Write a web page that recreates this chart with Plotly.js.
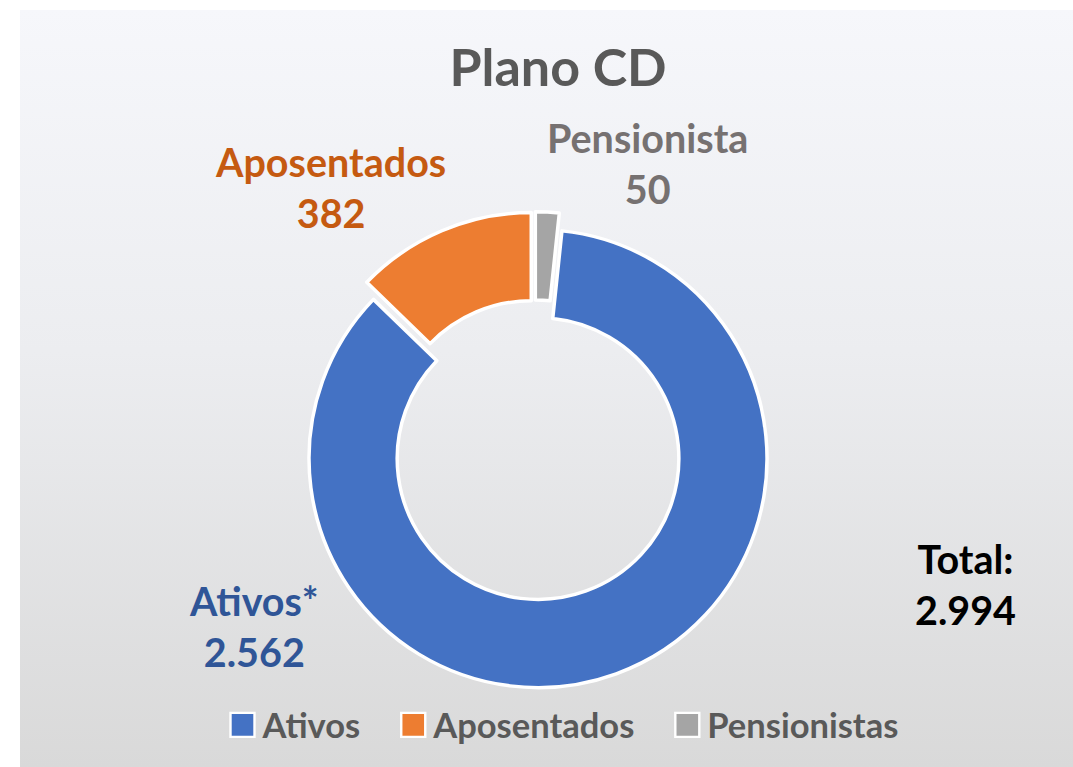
<!DOCTYPE html>
<html>
<head>
<meta charset="utf-8">
<script src="https://cdn.plot.ly/plotly-3.0.1.min.js"></script>
<style>
  html, body { margin: 0; padding: 0; background: #ffffff; }
  #wrap { position: relative; width: 1073px; height: 767px; background: #ffffff; overflow: hidden; }
  #bg { position: absolute; left: 20px; top: 10px; width: 1053px; height: 757px;
        background: linear-gradient(to bottom, #F6F7FB 0%, #ECEDF0 45%, #D9D9D9 100%); }
  #chart { position: absolute; left: 0; top: 0; width: 1073px; height: 767px; }
</style>
</head>
<body>
<div id="wrap">
  <div id="bg"></div>
  <div id="chart"></div>
</div>
<script>
// ---- data ----
const categories = ["Ativos", "Aposentados", "Pensionistas"];
const values = [2562, 382, 50];
const calloutLabels = ["Ativos*", "Aposentados", "Pensionista"];
const sliceColors = ["#4472C4", "#ED7D31", "#A5A5A5"];
const calloutColors = ["#2F5597", "#C55A11", "#767171"];
const chartTitle = "Plano CD";
const totalLabel = "Total:";

function fmtBR(n) {
  return String(n).replace(/\B(?=(\d{3})+(?!\d))/g, ".");
}
const total = values.reduce((a, b) => a + b, 0);

const W = 1073, H = 767;
const px = x => x / W;
const py = y => 1 - y / H;

// callout positions (pixels)
const calloutPos = [[254, 626], [330, 187], [647, 163]];

const annotations = categories.map((c, i) => ({
  text: calloutLabels[i] + "<br>" + fmtBR(values[i]),
  x: px(calloutPos[i][0]), y: py(calloutPos[i][1]),
  xref: "paper", yref: "paper", xanchor: "center", yanchor: "middle",
  align: "center", showarrow: false,
  font: { family: "Lato, sans-serif", size: 39.5, color: calloutColors[i], weight: 700 }
}));
annotations.push({
  text: totalLabel + "<br>" + fmtBR(total),
  x: px(965), y: py(584), xref: "paper", yref: "paper",
  xanchor: "center", yanchor: "middle", align: "center", showarrow: false,
  font: { family: "Lato, sans-serif", size: 39.5, color: "#000000", weight: 700 }
});

const trace = {
  type: "pie",
  labels: categories,
  values: values,
  sort: false,
  direction: "clockwise",
  rotation: 6,
  hole: 0.615,
  pull: [0.04, 0.04, 0.04],
  textinfo: "none",
  hoverinfo: "none",
  marker: { colors: sliceColors, line: { color: "#FFFFFF", width: 3.5 } },
  domain: { x: [0.1, 0.897], y: [0.1028, 0.7238] }
};

const layout = {
  width: W, height: H,
  margin: { l: 0, r: 0, t: 0, b: 0 },
  paper_bgcolor: "rgba(0,0,0,0)",
  plot_bgcolor: "rgba(0,0,0,0)",
  title: {
    text: chartTitle,
    x: px(558), xanchor: "center",
    y: 1 - 68 / H, yanchor: "middle", yref: "container",
    font: { family: "Lato, sans-serif", size: 52, color: "#595959", weight: 700 }
  },
  showlegend: true,
  legend: {
    orientation: "h",
    x: px(563), xanchor: "center",
    y: py(725), yanchor: "middle",
    bgcolor: "rgba(0,0,0,0)",
    font: { family: "Lato, sans-serif", size: 34.5, color: "#595959", weight: 700 },
    itemclick: false, itemdoubleclick: false
  },
  annotations: annotations
};

Plotly.newPlot("chart", [trace], layout, { staticPlot: true, displayModeBar: false }).then(() => {
  // let legend entries extend beyond plotly's legend clip box
  document.querySelectorAll("#chart .legend [clip-path]").forEach(e => e.removeAttribute("clip-path"));
  document.querySelectorAll("#chart .legend").forEach(e => e.removeAttribute("clip-path"));
  // larger legend keys, as in the reference
  document.querySelectorAll("#chart .legendpoints path").forEach(p => {
    const t = p.getAttribute("transform") || "";
    p.setAttribute("transform", t + " scale(2)");
    p.style.strokeWidth = "1.2px";
  });
  // wider spacing between legend entries
  const extra = 27;
  const items = document.querySelectorAll("#chart .legend .traces");
  const n = items.length;
  items.forEach((g, i) => {
    const t = g.getAttribute("transform") || "";
    const m = t.match(/translate\(\s*([-\d.]+)[ ,]+([-\d.]+)\s*\)/);
    if (m) {
      const nx = parseFloat(m[1]) + extra * (i - (n - 1) / 2);
      g.setAttribute("transform", "translate(" + nx + "," + m[2] + ")");
    }
  });
});
</script>
</body>
</html>
